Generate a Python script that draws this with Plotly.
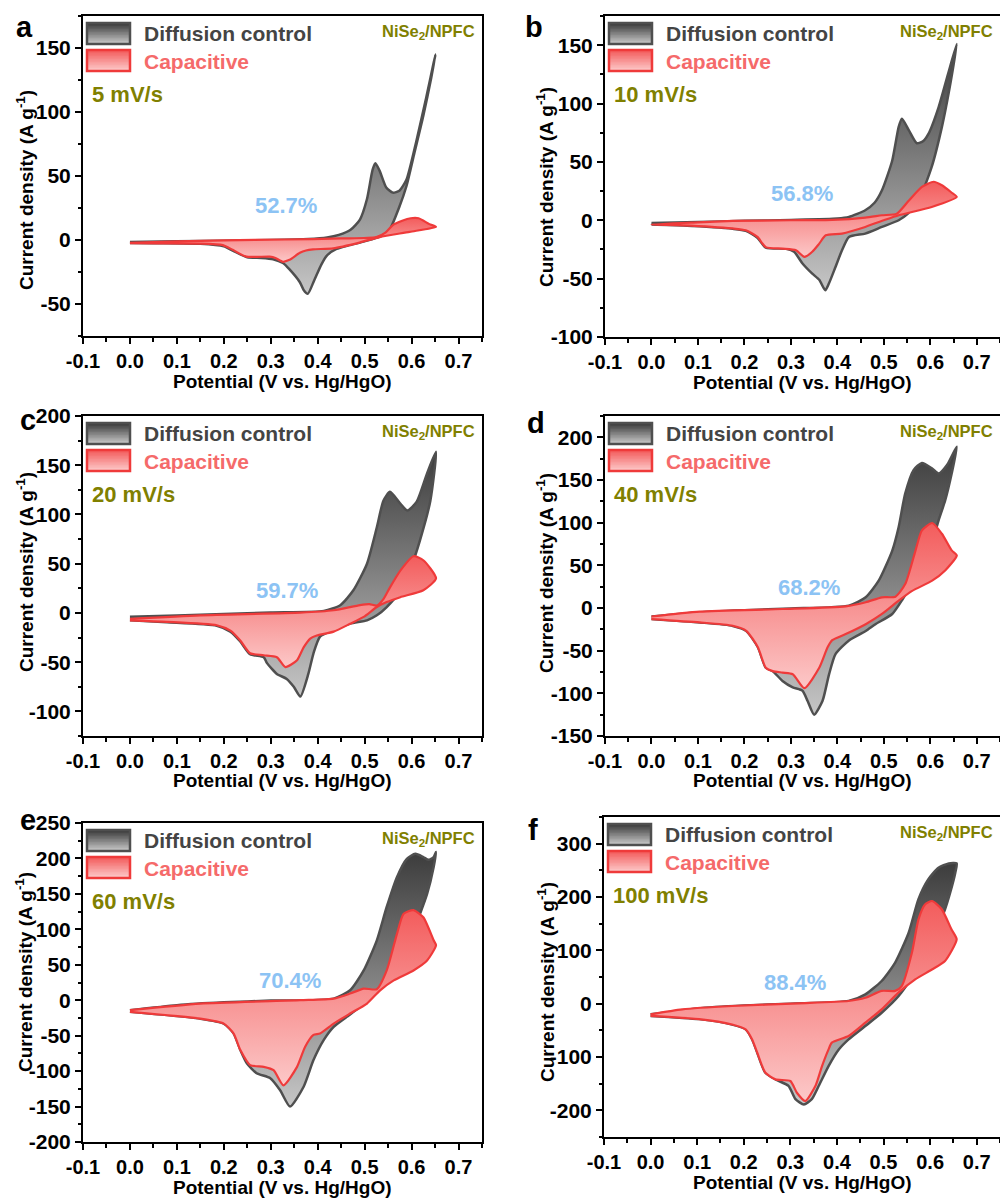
import plotly.graph_objects as go

# ---------------------------------------------------------------------------
# Data: CV loops of NiSe2/NPFC, potential in V vs. Hg/HgO, current in A g^-1.
# Each loop lists the anodic sweep (0 -> 0.65 V) followed by the cathodic
# sweep back to 0 V.  "TOTAL" = measured current, "CAP" = capacitive part.
# ---------------------------------------------------------------------------

# 5 mV/s
A_TOTAL_V = [0.0, 0.1, 0.2, 0.3, 0.38, 0.42, 0.445, 0.47, 0.49, 0.505, 0.517, 0.523, 0.532, 0.546, 0.56,
             0.574, 0.589, 0.61, 0.631, 0.651,
             0.642, 0.625, 0.606, 0.589, 0.574, 0.553, 0.535, 0.5, 0.468, 0.44, 0.42, 0.408, 0.392, 0.379,
             0.37, 0.362, 0.34, 0.326, 0.305, 0.28, 0.25, 0.22, 0.2, 0.15, 0.05, 0.0]
A_TOTAL_J = [-1.5, -1.0, -0.5, 0.0, 0.8, 2.0, 4.0, 8.0, 16, 32, 55, 60, 54, 41, 37,
             38.5, 47, 77, 111, 145,
             127, 97, 68, 42, 26, 8, 3, -1, -4, -7, -12, -19, -32, -42,
             -39, -33, -23, -18, -15, -14, -13.5, -8.5, -5, -3, -2.5, -2.3]
A_CAP_V = [0.0, 0.1, 0.2, 0.33, 0.45, 0.525, 0.545, 0.56, 0.58, 0.598, 0.615, 0.638, 0.652,
           0.596, 0.532, 0.489, 0.433, 0.39, 0.375, 0.362, 0.34, 0.326, 0.31, 0.298, 0.248, 0.219,
           0.198, 0.149, 0.064, 0.0]
A_CAP_J = [-2.3, -1.0, -0.3, 0.4, 1.2, 2.3, 6, 11.6, 15, 17, 17, 12.4, 10.3,
           6.4, 2.3, -2, -6.5, -7.3, -8.2, -10, -15.5, -17, -14, -13, -13, -7.7,
           -4, -2.8, -2.6, -2.5]

# 10 mV/s
B_TOTAL_V = [0.0, 0.1, 0.2, 0.3, 0.4, 0.425, 0.46, 0.48, 0.496, 0.518, 0.532, 0.539, 0.554, 0.571, 0.585,
             0.596, 0.618, 0.638, 0.657,
             0.64, 0.625, 0.603, 0.575, 0.55, 0.532, 0.496, 0.46, 0.425, 0.41, 0.396, 0.382, 0.374, 0.361,
             0.346, 0.325, 0.307, 0.29, 0.246, 0.228, 0.203, 0.175, 0.068, 0.0]
B_TOTAL_J = [-2.3, -1.5, -0.5, 0.3, 1.5, 2.9, 8.6, 15, 25.7, 51, 80, 87, 77, 66, 68,
             74, 97, 125, 151,
             110, 80, 45.7, 17, 5, 0, -5.7, -11.4, -14.3, -25.7, -40, -54, -60, -51,
             -45.7, -37, -27, -24.5, -23.5, -15, -9, -7.3, -4.5, -3.7]
B_CAP_V = [0.0, 0.1, 0.175, 0.3, 0.389, 0.46, 0.496, 0.528, 0.554, 0.582, 0.607, 0.625, 0.645, 0.657,
           0.603, 0.532, 0.5, 0.46, 0.41, 0.375, 0.361, 0.346, 0.329, 0.311, 0.282, 0.246, 0.228,
           0.203, 0.175, 0.068, 0.0]
B_CAP_J = [-3.7, -1.8, -0.6, 0.0, 0.3, 2.3, 4.3, 5.7, 17, 28.6, 33, 30, 24, 20,
           11.4, 4.3, 0, -5.7, -11.4, -12.9, -20, -27, -31.4, -25.7, -24.3, -23, -14.3,
           -8.6, -7, -4.3, -3.7]

# 20 mV/s
C_TOTAL_V = [0.0, 0.1, 0.2, 0.3, 0.413, 0.448, 0.476, 0.505, 0.526, 0.54, 0.554, 0.576, 0.591, 0.611,
             0.633, 0.652,
             0.64, 0.618, 0.6, 0.575, 0.547, 0.526, 0.505, 0.469, 0.434, 0.405, 0.391, 0.38, 0.363,
             0.349, 0.334, 0.313, 0.292, 0.285, 0.256, 0.235, 0.214, 0.185, 0.079, 0.0]
C_TOTAL_J = [-4, -2.5, -1, 0.5, 2, 7.8, 23, 50, 87, 114, 123, 111, 104, 113,
             141.6, 163.6,
             114, 74, 48, 22, 6, -2.4, -7.5, -10.8, -17.6, -24, -41, -62, -85,
             -75, -67, -62, -51, -45, -42, -29, -19, -13, -9.5, -7.5]
C_CAP_V = [0.0, 0.15, 0.363, 0.434, 0.49, 0.51, 0.526, 0.54, 0.554, 0.576, 0.604, 0.625, 0.652,
           0.625, 0.576, 0.547, 0.526, 0.498, 0.469, 0.434, 0.398, 0.384, 0.37, 0.356, 0.331, 0.313,
           0.285, 0.256, 0.235, 0.214, 0.185, 0.079, 0.0]
C_CAP_J = [-6, -2.4, 0.3, 2.7, 8, 9, 7.5, 14, 26, 43, 57.6, 53.5, 35,
           23, 16, 11, 6, -4, -11, -19, -23, -26, -35, -48, -55, -45,
           -43, -41, -28, -18, -12.5, -9, -7.5]

# 40 mV/s
D_TOTAL_V = [0.0, 0.1, 0.2, 0.3, 0.425, 0.461, 0.489, 0.518, 0.532, 0.546, 0.564, 0.582, 0.604, 0.618,
             0.636, 0.657,
             0.646, 0.632, 0.618, 0.6, 0.57, 0.54, 0.518, 0.482, 0.461, 0.425, 0.396, 0.382, 0.368, 0.35,
             0.336, 0.325, 0.304, 0.282, 0.261, 0.246, 0.229, 0.204, 0.175, 0.104, 0.0]
D_TOTAL_J = [-10, -5, -2.5, -0.5, 2.7, 12.5, 32, 67, 95, 134, 161.6, 170, 163.5, 157.6,
             167.5, 189,
             157.6, 126, 103, 70, 38, 10, -7, -19, -27, -38, -54, -78, -109, -125,
             -109, -97, -93, -85.5, -74, -70, -46, -27, -21, -17, -13]
D_CAP_V = [0.0, 0.104, 0.282, 0.418, 0.461, 0.496, 0.525, 0.546, 0.568, 0.582, 0.604, 0.625, 0.646, 0.657,
           0.632, 0.604, 0.561, 0.532, 0.496, 0.461, 0.418, 0.389, 0.379, 0.361, 0.329, 0.304, 0.282,
           0.261, 0.246, 0.229, 0.204, 0.175, 0.104, 0.0]
D_CAP_J = [-10, -4.3, -1.2, 2, 6.7, 12.5, 13.3, 28, 67, 91, 99.6, 87, 67.5, 61.6,
           44, 32, 20, 8.6, -7, -19, -30.6, -37.6, -46, -70, -94, -77.6, -75.7,
           -74, -70, -46, -26.7, -20.8, -16.9, -13]

# 60 mV/s
E_TOTAL_V = [0.0, 0.1, 0.2, 0.3, 0.434, 0.469, 0.498, 0.526, 0.547, 0.569, 0.59, 0.608, 0.625, 0.636,
             0.647, 0.652,
             0.647, 0.633, 0.618, 0.59, 0.56, 0.519, 0.49, 0.462, 0.434, 0.413, 0.391, 0.37, 0.341,
             0.32, 0.299, 0.27, 0.249, 0.235, 0.221, 0.2, 0.15, 0.0]
E_TOTAL_J = [-14, -7, -3, -0.5, 2.3, 14, 42, 84.5, 131.5, 174, 199.5, 206.6, 202, 198,
             202, 209,
             188, 150, 122, 75, 40, 9.4, -9.4, -23.5, -37.6, -56, -84.5, -122, -150,
             -127, -110, -103, -89, -70, -47, -33, -26, -16.4]
E_CAP_V = [0.0, 0.15, 0.363, 0.434, 0.469, 0.498, 0.526, 0.547, 0.569, 0.583, 0.604, 0.625, 0.647, 0.652,
           0.633, 0.604, 0.562, 0.533, 0.505, 0.469, 0.434, 0.405, 0.391, 0.373, 0.356, 0.327, 0.306,
           0.285, 0.256, 0.235, 0.221, 0.2, 0.15, 0.0]
E_CAP_J = [-14, -4.7, 0, 2.3, 9.4, 16.4, 15.5, 42, 94, 122, 127, 117, 84.5, 77.5,
           56, 42, 28, 14, -4.7, -18.8, -33, -47, -49, -66, -94, -120, -98.6,
           -94, -91.5, -70, -47, -33, -26, -16.4]

# 100 mV/s
F_TOTAL_V = [0.0, 0.1, 0.2, 0.3, 0.425, 0.461, 0.496, 0.525, 0.554, 0.575, 0.596, 0.618, 0.64, 0.657,
             0.654, 0.643, 0.632, 0.6, 0.565, 0.532, 0.496, 0.461, 0.425, 0.404, 0.382, 0.361, 0.346,
             0.329, 0.311, 0.296, 0.268, 0.246, 0.229, 0.218, 0.204, 0.175, 0.104, 0.0]
F_TOTAL_J = [-20, -9, -3.5, 0, 5, 17.5, 42.5, 77, 133, 196, 233, 255, 263, 263,
             245.6, 208, 177, 110, 55, 14, -17, -42, -67, -86, -117, -154, -179,
             -189, -179, -154, -142, -129, -92, -67, -48, -39, -29, -23]
F_CAP_V = [0.0, 0.068, 0.175, 0.318, 0.425, 0.461, 0.496, 0.525, 0.539, 0.561, 0.575, 0.589, 0.604,
           0.625, 0.646, 0.657,
           0.632, 0.604, 0.568, 0.532, 0.496, 0.461, 0.425, 0.389, 0.382, 0.368, 0.354, 0.332, 0.314,
           0.3, 0.268, 0.246, 0.229, 0.218, 0.204, 0.175, 0.104, 0.0]
F_CAP_J = [-20, -10.6, -4.4, 0.6, 5, 11, 24, 24, 33, 96, 158, 186, 192.5,
           177, 139, 120.6,
           80, 64, 45.6, 20.6, -10.6, -35.6, -60.6, -73, -85.6, -117, -154, -182.5, -167,
           -145, -142, -129, -92, -67, -48, -39, -29, -23]

PANEL_LETTERS = ["a", "b", "c", "d", "e", "f"]
SCAN_RATES = ["5 mV/s", "10 mV/s", "20 mV/s", "40 mV/s", "60 mV/s", "100 mV/s"]
CAP_CONTRIBUTION = ["52.7%", "56.8%", "59.7%", "68.2%", "70.4%", "88.4%"]

X_TICKS = [-0.1, 0.0, 0.1, 0.2, 0.3, 0.4, 0.5, 0.6, 0.7]
X_TICK_LABELS = ["-0.1", "0.0", "0.1", "0.2", "0.3", "0.4", "0.5", "0.6", "0.7"]
Y_TICKS = [
    [-50, 0, 50, 100, 150],
    [-100, -50, 0, 50, 100, 150],
    [-100, -50, 0, 50, 100, 150, 200],
    [-150, -100, -50, 0, 50, 100, 150, 200],
    [-200, -150, -100, -50, 0, 50, 100, 150, 200, 250],
    [-200, -100, 0, 100, 200, 300],
]
Y_TICK_LABELS = [[str(v) for v in ticks] for ticks in Y_TICKS]

TOTAL_LOOPS = [(A_TOTAL_V, A_TOTAL_J), (B_TOTAL_V, B_TOTAL_J), (C_TOTAL_V, C_TOTAL_J),
               (D_TOTAL_V, D_TOTAL_J), (E_TOTAL_V, E_TOTAL_J), (F_TOTAL_V, F_TOTAL_J)]
CAP_LOOPS = [(A_CAP_V, A_CAP_J), (B_CAP_V, B_CAP_J), (C_CAP_V, C_CAP_J),
             (D_CAP_V, D_CAP_J), (E_CAP_V, E_CAP_J), (F_CAP_V, F_CAP_J)]

# ---------------------------------------------------------------------------
# Layout (pixel geometry of the 3 x 2 grid of panels)
# ---------------------------------------------------------------------------
W, H = 1000, 1198
FONT = "Liberation Sans"

# left, top, right, bottom of each plotting area
BOXES = [(83, 16, 482, 336), (605, 16, 1000, 337),
         (83, 416, 482, 736), (605, 416, 1000, 736),
         (83, 823, 482, 1142), (604, 817, 1000, 1137)]
Y_RANGES = [(-75, 175), (-100, 175), (-125, 200), (-150, 225), (-200, 250), (-250, 350)]
Y_MINOR = [25, 25, 25, 25, 25, 50]
PCT_POS = [(0.332, 27), (0.324, 23), (0.334, 22.4), (0.338, 23.5), (0.34, 28), (0.311, 39)]
LETTER_POS = [(24, 27), (534, 27), (28, 420), (536, 423), (28, 820), (533, 830)]
YTITLE_POS = [(25, 190), (545, 187), (25, 572), (545, 573), (24, 972), (546, 982)]

GRAY_LINE = "#4f4f4f"
RED_LINE = "#ef3a3a"
GRAY_SCALE = [[0.0, "#c6c6c6"], [1.0, "#3c3c3c"]]
RED_SCALE = [[0.0, "#fcc8c8"], [1.0, "#f35c5c"]]
OLIVE = "#808000"


def fx(px):
    return px / W


def fy(py):
    return 1 - py / H


def mix(c0, c1, t):
    a = [int(c0[i:i + 2], 16) for i in (1, 3, 5)]
    b = [int(c1[i:i + 2], 16) for i in (1, 3, 5)]
    return "rgb({},{},{})".format(*[round(a[k] + (b[k] - a[k]) * t) for k in range(3)])


fig = go.Figure()
shapes = []
annotations = []

for i in range(6):
    left, top, right, bottom = BOXES[i]
    sfx = "" if i == 0 else str(i + 1)
    xref, yref = "x" + sfx, "y" + sfx

    tv, tj = TOTAL_LOOPS[i]
    cv, cj = CAP_LOOPS[i]
    fig.add_trace(go.Scatter(
        x=tv, y=tj, xaxis=xref, yaxis=yref, mode="lines", fill="toself",
        fillgradient=dict(type="vertical", colorscale=GRAY_SCALE),
        line=dict(color=GRAY_LINE, width=2.5, shape="spline", smoothing=0.6),
        hoverinfo="skip", showlegend=False))
    fig.add_trace(go.Scatter(
        x=cv, y=cj, xaxis=xref, yaxis=yref, mode="lines", fill="toself",
        fillgradient=dict(type="vertical", colorscale=RED_SCALE),
        line=dict(color=RED_LINE, width=2.2, shape="spline", smoothing=0.6),
        hoverinfo="skip", showlegend=False))

    axis_common = dict(showline=True, linewidth=2, linecolor="black", mirror=True,
                       ticks="outside", ticklen=6, tickwidth=2, tickcolor="black",
                       showgrid=False, zeroline=False, automargin=False)
    fig.update_layout(**{
        "xaxis" + sfx: dict(domain=[fx(left), fx(right)], range=[-0.1, 0.75],
                            anchor=yref, tickmode="array", tickvals=X_TICKS, ticktext=X_TICK_LABELS,
                            tickfont=dict(family=FONT, size=20, color="black", weight="bold"),
                            minor=dict(tickmode="linear", tick0=0, dtick=0.05, ticks="outside",
                                       ticklen=3.5, tickwidth=1.5, tickcolor="black"),
                            **axis_common),
        "yaxis" + sfx: dict(domain=[fy(bottom), fy(top)], range=list(Y_RANGES[i]),
                            anchor=xref, tickmode="array", tickvals=Y_TICKS[i], ticktext=Y_TICK_LABELS[i],
                            tickfont=dict(family=FONT, size=21, color="black", weight="bold"),
                            minor=dict(tickmode="linear", tick0=0, dtick=Y_MINOR[i], ticks="outside",
                                       ticklen=3.5, tickwidth=1.5, tickcolor="black"),
                            **axis_common),
    })

    # legend swatches with vertical gradient
    for row, (c_top, c_bot, c_edge) in enumerate([("#3c3c3c", "#c6c6c6", GRAY_LINE),
                                                 ("#f35c5c", "#fcc8c8", RED_LINE)]):
        x0, x1 = left + 4, left + 47
        y0 = top + 7 + row * 27
        y1 = y0 + 21
        n = 14
        hstep = (y1 - y0) / n
        for k in range(n):
            shapes.append(dict(type="rect", xref="paper", yref="paper",
                               x0=fx(x0), x1=fx(x1),
                               y0=fy(y0 + k * hstep), y1=fy(min(y1, y0 + (k + 1) * hstep + 0.6)),
                               fillcolor=mix(c_top, c_bot, k / (n - 1)), line=dict(width=0),
                               layer="above"))
        shapes.append(dict(type="rect", xref="paper", yref="paper",
                           x0=fx(x0), x1=fx(x1), y0=fy(y0), y1=fy(y1),
                           fillcolor="rgba(0,0,0,0)", line=dict(color=c_edge, width=2.5),
                           layer="above"))

    annotations += [
        dict(text="Diffusion control", xref="paper", yref="paper", x=fx(left + 59), y=fy(top + 17),
             xanchor="left", yanchor="middle", showarrow=False,
             font=dict(family=FONT, size=21, color="#444444", weight="bold")),
        dict(text="Capacitive", xref="paper", yref="paper", x=fx(left + 59), y=fy(top + 45),
             xanchor="left", yanchor="middle", showarrow=False,
             font=dict(family=FONT, size=21, color="#f56a6a", weight="bold")),
        dict(text=SCAN_RATES[i], xref="paper", yref="paper", x=fx(left + 7), y=fy(top + 78),
             xanchor="left", yanchor="middle", showarrow=False,
             font=dict(family=FONT, size=22, color=OLIVE, weight="bold")),
        dict(text="NiSe<sub>2</sub>/NPFC", xref="paper", yref="paper", x=fx(right - 5), y=fy(top + 16),
             xanchor="right", yanchor="middle", showarrow=False,
             font=dict(family=FONT, size=16.5, color=OLIVE, weight="bold")),
        dict(text=CAP_CONTRIBUTION[i], xref=xref, yref=yref, x=PCT_POS[i][0], y=PCT_POS[i][1],
             xanchor="center", yanchor="middle", showarrow=False,
             font=dict(family=FONT, size=22, color="#8cc3f4", weight="bold")),
        dict(text=PANEL_LETTERS[i], xref="paper", yref="paper", x=fx(LETTER_POS[i][0]), y=fy(LETTER_POS[i][1]),
             xanchor="center", yanchor="middle", showarrow=False,
             font=dict(family=FONT, size=29, color="black", weight="bold")),
        dict(text="Current density (A g<sup>-1</sup>)", xref="paper", yref="paper",
             x=fx(YTITLE_POS[i][0]), y=fy(YTITLE_POS[i][1]), textangle=-90,
             xanchor="center", yanchor="middle", showarrow=False,
             font=dict(family=FONT, size=19, color="black", weight="bold")),
        dict(text="Potential (V vs. Hg/HgO)", xref="paper", yref="paper",
             x=fx((left + right) / 2), y=fy(bottom + 45),
             xanchor="center", yanchor="middle", showarrow=False,
             font=dict(family=FONT, size=19, color="black", weight="bold")),
    ]

fig.update_layout(template="none", width=W, height=H, margin=dict(l=0, r=0, t=0, b=0, pad=0),
                  paper_bgcolor="white", plot_bgcolor="white", showlegend=False,
                  shapes=shapes, annotations=annotations)

fig.write_html("out.html")
